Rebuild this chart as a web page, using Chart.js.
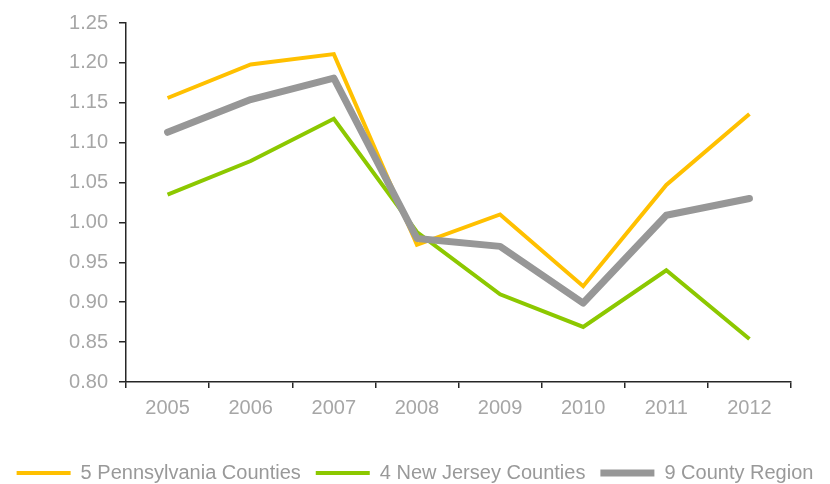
<!DOCTYPE html>
<html>
<head>
<meta charset="utf-8">
<script src="https://cdn.jsdelivr.net/npm/chart.js@4"></script>
<style>
html,body{margin:0;padding:0;background:#fff;}
#wrap{width:830px;height:484px;position:relative;}
</style>
</head>
<body>
<div id="wrap"><canvas id="c" width="830" height="484"></canvas></div>
<script>
const years = ['2005','2006','2007','2008','2009','2010','2011','2012'];
const seriesNames = ['5 Pennsylvania Counties','4 New Jersey Counties','9 County Region'];
const pennsylvania = [1.156, 1.198, 1.211, 0.972, 1.010, 0.920, 1.047, 1.136];
const newJersey    = [1.035, 1.077, 1.130, 0.988, 0.910, 0.869, 0.940, 0.854];
const region       = [1.113, 1.154, 1.181, 0.980, 0.970, 0.899, 1.009, 1.030];
const yMin = 0.80, yMax = 1.25, yStep = 0.05;

const tickFont = {family: "'Liberation Sans', Arial, sans-serif", size: 20};
const axisColor = '#262626';
const textColor = '#a6a6a6';

new Chart(document.getElementById('c'), {
  type: 'line',
  data: {
    labels: years,
    datasets: [
      {label: seriesNames[0], data: pennsylvania, borderColor: '#FFC000', backgroundColor: '#FFC000',
       borderWidth: 4, pointRadius: 0, tension: 0, order: 1, borderCapStyle: 'butt'},
      {label: seriesNames[1], data: newJersey, borderColor: '#8CC800', backgroundColor: '#8CC800',
       borderWidth: 4, pointRadius: 0, tension: 0, order: 2, borderCapStyle: 'butt'},
      {label: seriesNames[2], data: region, borderColor: '#979797', backgroundColor: '#979797',
       borderWidth: 7, pointRadius: 0, tension: 0, order: 0, borderCapStyle: 'round', borderJoinStyle: 'round'}
    ]
  },
  options: {
    responsive: false,
    animation: false,
    layout: {padding: {top: 17, right: 0, left: 0, bottom: -9}},
    plugins: {
      tooltip: {enabled: false},
      legend: {
        position: 'bottom',
        labels: {
          usePointStyle: true,
          pointStyle: 'line',
          pointStyleWidth: 54,
          boxHeight: 20,
          padding: 15,
          color: '#999999',
          sort: (a, b) => a.datasetIndex - b.datasetIndex,
          font: {family: "'Liberation Sans', Arial, sans-serif", size: 20}
        }
      }
    },
    scales: {
      x: {
        offset: true,
        grid: {display: true, drawOnChartArea: false, drawTicks: true, tickLength: 6, color: axisColor, offset: true, lineWidth: 1.5},
        border: {display: true, color: axisColor, width: 1.5},
        ticks: {color: textColor, font: tickFont, padding: 8, maxRotation: 0},
        afterFit: s => { s.height = 66; s.paddingRight = 39; }
      },
      y: {
        min: yMin, max: yMax,
        grid: {display: true, drawOnChartArea: false, drawTicks: true, tickLength: 7, color: axisColor, lineWidth: 1.5},
        border: {display: true, color: axisColor, width: 1.5},
        ticks: {stepSize: yStep, color: textColor, font: tickFont, padding: 11,
                callback: v => Number(v).toFixed(2)},
        afterFit: s => { s.width = 126; }
      }
    }
  }
});
</script>
</body>
</html>
